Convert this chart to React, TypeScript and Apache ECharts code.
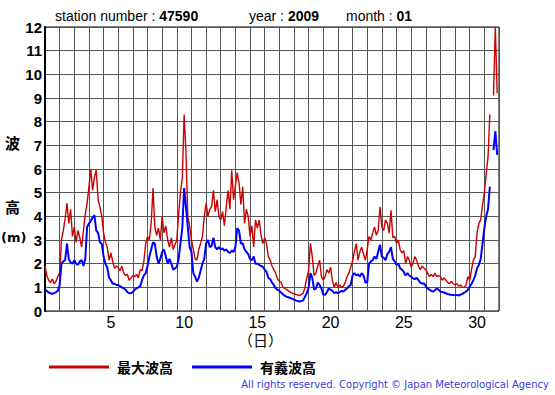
import { useEffect, useRef } from 'react';
import * as echarts from 'echarts';

// 3-hourly samples starting at day 1 00:00 (x axis in days since start of month)
const STEP_DAYS = 1 / 8;

// 最大波高 (max wave height, m)
const maxWaveHeight: (number | null)[] = [
  1.9, 1.5, 1.3, 1.2, 1.35, 1.15, 1.25, 1.45,
  1.6, 3.0, 3.4, 3.9, 4.55, 3.7, 4.3, 3.15,
  3.55, 2.9, 3.4, 3.1, 2.7, 3.4, 4.1, 4.55,
  5.25, 6.0, 5.1, 5.65, 5.95, 4.7, 4.4, 4.0,
  3.3, 2.9, 2.7, 2.15, 2.45, 2.1, 1.8, 1.9,
  1.85, 1.7, 1.9, 1.6, 1.5, 1.55, 1.3, 1.4,
  1.5, 1.45, 1.55, 1.4, 1.75, 1.7, 2.1, 2.85,
  3.15, 3.0, 3.7, 5.2, 3.55, 3.2, 3.5, 3.0,
  4.0, 3.3, 3.6, 3.0, 2.7, 3.1, 2.6, 2.8,
  3.0, 4.1, 5.0, 5.6, 8.3, 6.7, 4.0, 3.6,
  3.0, 2.6, 2.2, 2.15, 2.6, 2.85, 3.15, 4.0,
  4.55, 4.0, 4.3, 4.4, 5.1, 4.2, 4.7, 4.0,
  3.85, 4.2, 3.6, 4.4, 5.1, 4.3, 5.95, 4.7,
  5.3, 5.85, 5.4, 4.5, 5.25, 3.7, 4.3, 4.0,
  3.15, 3.6, 2.7, 3.85, 3.5, 3.85, 3.2, 2.85,
  3.1, 2.85, 2.3, 2.15, 1.9, 1.75, 1.6, 1.35,
  1.25, 1.2, 1.0, 0.95, 0.9, 0.85, 0.8, 0.75,
  0.72, 0.7, 0.68, 0.65, 0.7, 0.75, 1.0, 1.4,
  1.7, 2.86, 2.3, 1.5, 1.6, 1.9, 2.15, 1.45,
  1.3, 1.45, 1.75, 1.6, 1.85, 1.3, 1.0, 1.2,
  1.0, 1.1, 1.0, 1.05, 1.2, 1.45, 1.6, 1.85,
  2.1, 2.5, 2.85, 2.15, 2.5, 2.7, 2.4, 2.15,
  2.6, 3.15, 3.0, 3.3, 3.55, 3.2, 3.4, 4.4,
  3.55, 3.4, 3.85, 3.7, 3.3, 4.25, 3.1, 3.15,
  2.85, 3.0, 2.6, 2.45, 2.55, 2.0, 2.3, 2.15,
  1.85, 2.0, 2.3, 2.15, 1.9, 1.75, 1.9, 1.8,
  1.75, 1.6, 1.45, 1.55, 1.45, 1.6, 1.45, 1.5,
  1.45, 1.3, 1.4, 1.3, 1.2, 1.15, 1.25, 1.15,
  1.1, 1.15, 1.05, 1.1, 1.0, 1.0, 1.1, 1.45,
  1.3, 1.75, 2.15, 2.3, 3.3, 3.7, 3.85, 4.5,
  5.0, 5.8, 6.5, 8.3, null, 9.1, 12.0, 9.2,
];

// 有義波高 (significant wave height, m)
const sigWaveHeight: (number | null)[] = [
  0.9, 0.85, 0.78, 0.75, 0.72, 0.76, 0.8, 0.85,
  1.1, 2.0, 2.1, 2.15, 2.85, 2.2, 2.05, 2.0,
  2.15, 2.0, 1.95, 2.1, 2.15, 1.9, 2.2, 3.55,
  3.7, 3.8, 3.95, 4.05, 3.4, 3.3, 2.9, 2.85,
  2.3, 2.0, 1.85, 1.4, 1.3, 1.15, 1.15, 1.1,
  1.1, 1.05, 1.0, 0.96, 0.9, 0.8, 0.75, 0.75,
  0.8, 0.9, 0.95, 1.0, 1.05, 1.3, 1.5, 1.6,
  1.9, 2.3, 2.6, 2.9, 2.85, 2.3, 2.0, 2.2,
  2.5, 2.6, 2.3, 2.0, 2.2, 2.0, 1.75, 1.8,
  1.87, 2.2, 2.86, 3.5, 5.2, 4.4, 3.55, 2.7,
  2.5, 1.6, 1.45, 1.24, 1.4, 1.7, 2.0, 2.2,
  2.86, 3.0, 2.7, 2.75, 3.1, 2.7, 2.6, 2.7,
  2.6, 2.65, 2.55, 2.6, 2.5, 2.45, 2.55, 2.5,
  2.7, 3.5, 3.4, 2.85, 2.86, 2.6, 2.5, 2.4,
  2.2, 2.15, 2.3, 2.0, 2.0, 1.95, 1.9, 1.87,
  1.75, 1.65, 1.4, 1.35, 1.2, 1.1, 0.96, 0.9,
  0.85, 0.78, 0.7, 0.65, 0.6, 0.58, 0.55, 0.52,
  0.48, 0.45, 0.42, 0.4, 0.42, 0.45, 0.6, 0.75,
  1.0, 1.6, 1.4, 0.9, 0.95, 1.2, 1.1, 0.95,
  0.7, 0.68, 0.8, 0.95, 0.9, 0.85, 0.75, 0.8,
  0.75, 0.8, 0.85, 0.82, 0.9, 0.95, 1.05, 1.1,
  1.5, 1.6, 1.5, 1.55, 1.45, 1.6, 1.5, 1.2,
  1.2, 2.0, 2.1, 2.15, 2.3, 2.2, 2.5, 2.8,
  2.3, 2.25, 2.15, 2.4, 2.5, 2.7, 2.2, 2.1,
  1.95, 2.0, 1.8, 1.75, 1.65, 1.5, 1.6, 1.5,
  1.45, 1.38, 1.35, 1.4, 1.3, 1.2, 1.15, 1.17,
  1.05, 0.95, 0.9, 0.85, 0.82, 0.88, 0.95, 0.9,
  0.82, 0.8, 0.78, 0.75, 0.72, 0.7, 0.68, 0.68,
  0.66, 0.68, 0.65, 0.7, 0.72, 0.78, 0.82, 0.9,
  1.03, 1.15, 1.3, 1.5, 1.8, 1.95, 2.2, 2.85,
  3.5, 4.0, 4.3, 5.25, null, 6.8, 7.6, 6.6,
];

const dayLabels = [5, 10, 15, 20, 25, 30];
const seriesNames = ['最大波高', '有義波高'];
const stationNumber = '47590';
const year = '2009';
const month = '01';

export default function App() {
  const ref = useRef<HTMLDivElement>(null);
  useEffect(() => {
    const chart = echarts.init(ref.current!, null, { renderer: 'svg' });
    const toPairs = (arr: (number | null)[]) =>
      arr.map((v, i) => [i * STEP_DAYS, v == null ? '-' : v]);
    const titleRich = {
      a: { fontSize: 14, color: '#000', fontWeight: 'normal', fontFamily: 'Liberation Sans' },
      b: { fontSize: 14, color: '#000', fontWeight: 'bold', fontFamily: 'Liberation Sans' },
    };
    const titleText = { fontWeight: 'normal', rich: titleRich };
    chart.setOption({
      animation: false,
      backgroundColor: '#fff',
      title: [
        { text: `{a|station number : }{b|${stationNumber}}`, left: 55, top: 9, padding: 0, textStyle: titleText },
        { text: `{a|year : }{b|${year}}`, left: 249, top: 9, padding: 0, textStyle: titleText },
        { text: `{a|month : }{b|${month}}`, left: 346, top: 9, padding: 0, textStyle: titleText },
      ],
      grid: { left: 45, top: 27, right: 56, bottom: 84, show: true, borderColor: '#000', borderWidth: 1 },
      xAxis: [
        {
          type: 'value', min: 0, max: 31, interval: 1, position: 'bottom',
          axisLine: { show: false }, axisTick: { show: false }, axisLabel: { show: false },
          splitLine: { show: true, lineStyle: { color: '#555', width: 1 } },
        },
        {
          type: 'value', min: 0, max: 31, interval: 0.5, position: 'bottom',
          axisLine: { show: false }, axisTick: { show: false }, splitLine: { show: false },
          axisLabel: {
            fontSize: 16, lineHeight: 16, color: '#000', margin: 3, fontFamily: 'Liberation Sans',
            showMinLabel: false, showMaxLabel: false,
            formatter: (v: number) => {
              const d = Math.round((v + 0.5) * 2) / 2;
              return dayLabels.includes(d) ? String(d) : '';
            },
          },
        },
      ],
      yAxis: [
        {
          type: 'value', min: 0, max: 12, interval: 1,
          axisLine: { show: true, lineStyle: { color: '#000', width: 1 } },
          axisTick: { show: false },
          axisLabel: { fontSize: 15, fontWeight: 'bold', color: '#000', margin: 3, fontFamily: 'Liberation Sans' },
          splitLine: { show: true, lineStyle: { color: '#555', width: 1 } },
        },
        {
          type: 'value', min: 0, max: 12, interval: 1, position: 'right',
          axisLine: { show: true, lineStyle: { color: '#000', width: 2 } },
          axisTick: { show: false }, axisLabel: { show: false }, splitLine: { show: false },
        },
      ],
      legend: {
        left: 44, top: 355, itemWidth: 60, itemHeight: 3, itemGap: 19, icon: 'rect',
        data: seriesNames,
        textStyle: { fontSize: 14, fontWeight: 'bold', color: '#000', fontFamily: 'Noto Sans CJK JP', padding: [0, 0, 0, 3] },
      },
      series: [
        {
          name: seriesNames[0], type: 'line', xAxisIndex: 0, yAxisIndex: 0,
          data: toPairs(maxWaveHeight), showSymbol: false, connectNulls: false,
          lineStyle: { color: '#cc0000', width: 1.4 }, itemStyle: { color: '#cc0000' },
        },
        {
          name: seriesNames[1], type: 'line', xAxisIndex: 0, yAxisIndex: 0,
          data: toPairs(sigWaveHeight), showSymbol: false, connectNulls: false,
          lineStyle: { color: '#0000ff', width: 2 }, itemStyle: { color: '#0000ff' },
        },
      ],
      graphic: [
        { type: 'text', left: 5, top: 135, style: { text: '波', fontSize: 15, fontWeight: 'bold', fill: '#000', fontFamily: 'Noto Sans CJK JP' } },
        { type: 'text', left: 5, top: 199, style: { text: '高', fontSize: 15, fontWeight: 'bold', fill: '#000', fontFamily: 'Noto Sans CJK JP' } },
        { type: 'text', left: 1, top: 231, style: { text: '(m)', fontSize: 13, fontWeight: 'bold', fill: '#000', fontFamily: 'DejaVu Sans' } },
        { type: 'text', left: 238, top: 332, style: { text: '（日）', fontSize: 15, lineHeight: 15, fill: '#000', fontFamily: 'Noto Sans CJK JP' } },
        { type: 'text', right: 6, top: 379, style: { text: 'All rights reserved. Copyright © Japan Meteorological Agency', fontSize: 10, fill: '#3a3ae0', fontFamily: 'DejaVu Sans' } },
      ],
    });
    return () => chart.dispose();
  }, []);
  return <div ref={ref} style={{ position: 'fixed', left: 0, top: 0, width: 555, height: 395 }} />;
}
